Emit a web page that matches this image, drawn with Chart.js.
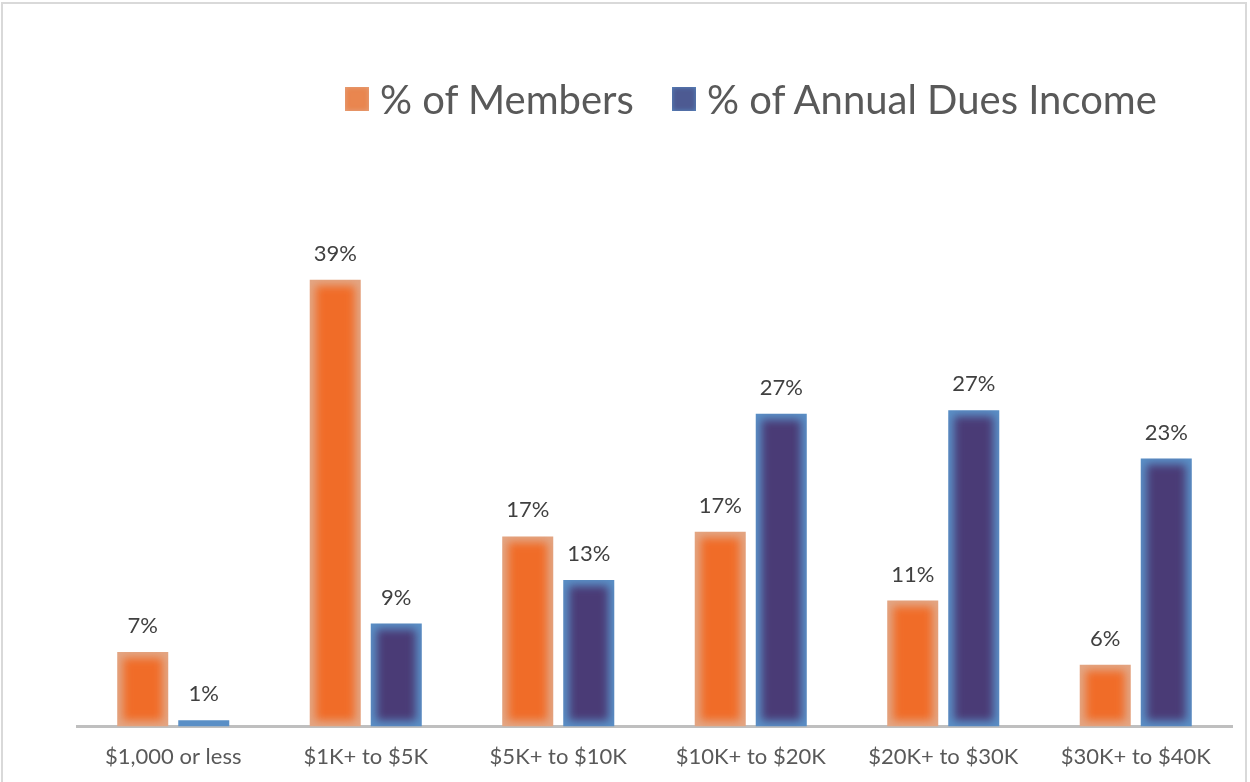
<!DOCTYPE html>
<html>
<head>
<meta charset="utf-8">
<script src="https://cdn.jsdelivr.net/npm/chart.js@4.4.0/dist/chart.umd.min.js"></script>
<style>
  html, body { margin: 0; padding: 0; background: #fff; overflow: hidden; }
  #wrap { position: relative; width: 1250px; height: 782px; overflow: hidden; }
  #chartBox { position: absolute; left: 0; top: 0; width: 1250px; height: 790px; }
  #frame { position: absolute; left: 1px; top: 2px; width: 1246px; height: 790px; border: 2px solid #d9d9d9; box-sizing: border-box; pointer-events: none; }
  #legend { position: absolute; top: 72px; left: 345px; font-family: Lato, sans-serif; font-size: 40px; color: #595959; white-space: nowrap; }
  .item { display: inline-flex; align-items: center; margin-right: 38px; }
  .box { width: 24px; height: 24px; margin-right: 11px; display: inline-block; }
</style>
</head>
<body>
<div id="wrap">
  <div id="chartBox"><canvas id="duesChart"></canvas></div>
  <div id="legend"></div>
  <div id="frame"></div>
</div>
<script>
// categories et valeurs
const categories = ['$1,000 or less', '$1K+ to $5K', '$5K+ to $10K', '$10K+ to $20K', '$20K+ to $30K', '$30K+ to $40K'];
const seriesNames = ['% of Members', '% of Annual Dues Income'];
const members = [6.5, 39, 16.6, 17.0, 11.0, 5.4];
const duesIncome = [0.55, 9.0, 12.8, 27.3, 27.6, 23.4];
const membersLabels = ['7%', '39%', '17%', '17%', '11%', '6%'];
const duesLabels = ['1%', '9%', '13%', '27%', '27%', '23%'];

// couleurs : bord clair + centre foncé (effet "glow" d'Excel)
const edgeColors = ['#e3a684', '#5a8fc6'];
const centerColors = ['#f06c28', '#4a3b76'];

// légende HTML
const legend = document.getElementById('legend');
seriesNames.forEach((name, i) => {
    const item = document.createElement('span');
    item.className = 'item';
    const box = document.createElement('span');
    box.className = 'box';
    box.style.background = i === 0 ? '#e9864f' : '#4d5a92';
    box.style.boxShadow = 'inset 0 0 5px ' + edgeColors[i];
    item.appendChild(box);
    item.appendChild(document.createTextNode(name));
    legend.appendChild(item);
});

// plugin: dégradé interne des barres + étiquettes de valeurs
const glowAndLabels = {
    id: 'glowAndLabels',
    afterDatasetsDraw(chart) {
        const ctx = chart.ctx;
        const labelSets = [membersLabels, duesLabels];
        chart.data.datasets.forEach((ds, di) => {
            const meta = chart.getDatasetMeta(di);
            meta.data.forEach((bar, i) => {
                const left = bar.x - bar.width / 2;
                const top = bar.y;
                const h = bar.base - bar.y;
                const inset = 6;
                if (h > inset * 2) {
                    ctx.save();
                    ctx.beginPath();
                    ctx.rect(left, top, bar.width, h);
                    ctx.clip();
                    ctx.filter = 'blur(4px)';
                    ctx.fillStyle = centerColors[di];
                    ctx.fillRect(left + inset, top + inset, bar.width - inset * 2, h - inset * 2);
                    ctx.restore();
                }
                ctx.save();
                ctx.fillStyle = '#404040';
                ctx.font = '22px Lato';
                ctx.textAlign = 'center';
                ctx.textBaseline = 'middle';
                ctx.fillText(labelSets[di][i], bar.x, top - 26);
                ctx.restore();
            });
        });
    }
};

document.addEventListener('DOMContentLoaded', () => {
    Chart.defaults.font.family = 'Lato';
    const ctx = document.getElementById('duesChart').getContext('2d');

    new Chart(ctx, {
        type: 'bar',
        data: {
            labels: categories,
            datasets: [{
                label: seriesNames[0],
                data: members,
                backgroundColor: edgeColors[0],
                barPercentage: 0.836,
                categoryPercentage: 0.634
            }, {
                label: seriesNames[1],
                data: duesIncome,
                backgroundColor: edgeColors[1],
                barPercentage: 0.836,
                categoryPercentage: 0.634
            }]
        },
        options: {
            responsive: true,
            maintainAspectRatio: false,
            animation: false,
            layout: { padding: { left: 77, right: 18, top: 211, bottom: 11 } },
            plugins: {
                legend: { display: false },
                tooltip: { enabled: false }
            },
            scales: {
                x: {
                    grid: { display: false },
                    border: { color: '#bfbfbf', width: 3 },
                    ticks: { color: '#595959', font: { size: 22 }, padding: 9 }
                },
                y: {
                    display: false,
                    min: 0,
                    max: 45
                }
            }
        },
        plugins: [glowAndLabels]
    });
});
</script>
</body>
</html>
